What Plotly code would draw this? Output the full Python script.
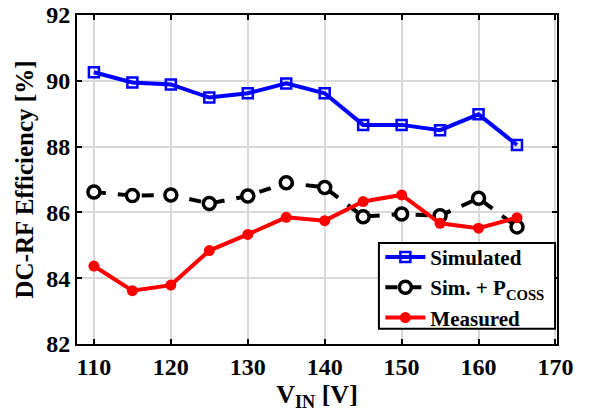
import plotly.graph_objects as go

vin = [110, 115, 120, 125, 130, 135, 140, 145, 150, 155, 160, 165]
simulated = [90.26, 89.95, 89.89, 89.49, 89.62, 89.92, 89.62, 88.66, 88.66, 88.50, 88.98, 88.05]
sim_pcoss = [86.62, 86.51, 86.53, 86.27, 86.50, 86.90, 86.76, 85.87, 85.95, 85.90, 86.43, 85.56]
measured = [84.37, 83.62, 83.79, 84.84, 85.33, 85.85, 85.75, 86.33, 86.53, 85.67, 85.52, 85.84]

x_ticks = [110, 120, 130, 140, 150, 160, 170]
y_ticks = [82, 84, 86, 88, 90, 92]

font_family = "Liberation Serif"

fig = go.Figure()
fig.add_trace(go.Scatter(
    x=vin, y=simulated, name="Simulated", mode="lines+markers",
    line=dict(color="#0000ff", width=4),
    marker=dict(symbol="square-open", size=10, color="#0000ff", line=dict(width=2.5)),
))
fig.add_trace(go.Scatter(
    x=vin, y=sim_pcoss, name="Sim. + P<sub>COSS</sub>", mode="lines+markers",
    line=dict(color="black", width=4, dash="dash"),
    marker=dict(symbol="circle", size=12, color="white", line=dict(width=3.5, color="black")),
))
fig.add_trace(go.Scatter(
    x=vin, y=measured, name="Measured", mode="lines+markers",
    line=dict(color="#ff0000", width=4),
    marker=dict(symbol="circle", size=11, color="#ff0000"),
))

axis_common = dict(
    showline=True, linecolor="black", linewidth=2, mirror="ticks",
    ticks="inside", ticklen=5, tickwidth=1.5, tickcolor="black",
    showgrid=True, gridcolor="#d9d9d9", gridwidth=1.5, zeroline=False,
    automargin=False,
    tickfont=dict(family=font_family, size=24, color="black", weight="bold"),
)

# legend frame drawn as a shape (covers the lines beneath, like the reference)
fig.add_shape(type="rect", xref="paper", yref="paper",
              x0=0.629, x1=0.996, y0=0.046, y1=0.307,
              fillcolor="white", line=dict(color="black", width=2), layer="above")

fig.update_layout(
    width=596, height=419,
    margin=dict(l=77, r=39, t=15, b=75),
    paper_bgcolor="white", plot_bgcolor="white",
    font=dict(family=font_family, color="black"),
    xaxis=dict(range=[107.8, 170.2], tickvals=x_ticks,
               title=dict(text="<b>V<sub>IN</sub> [V]</b>", font=dict(size=26, family=font_family), standoff=4),
               **axis_common),
    yaxis=dict(range=[82, 92], tickvals=y_ticks,
               title=dict(text="<b>DC-RF Efficiency [%]</b>", font=dict(size=25, family=font_family), standoff=5),
               **axis_common),
    legend=dict(
        x=0.632, y=0.326, xanchor="left", yanchor="top",
        bgcolor="rgba(0,0,0,0)", borderwidth=0,
        font=dict(family=font_family, size=21, color="black", weight="bold"),
        tracegroupgap=0, itemwidth=40,
    ),
)

fig.write_html("out.html")
